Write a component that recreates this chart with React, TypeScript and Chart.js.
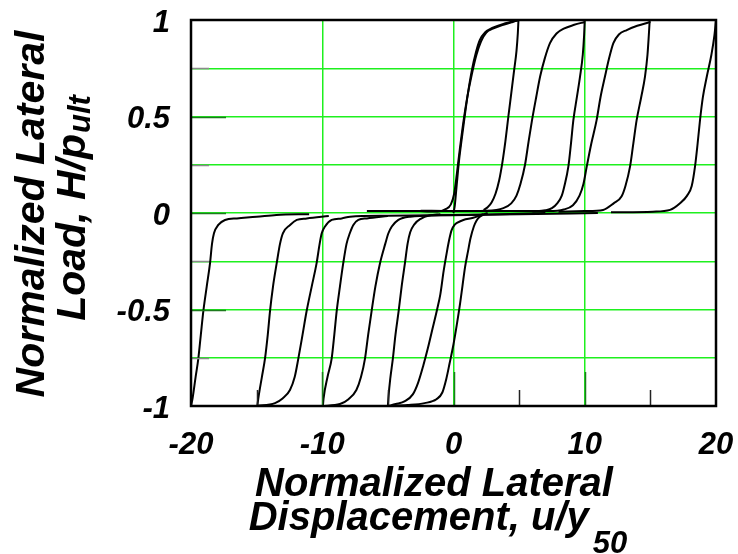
import React, { useEffect, useRef } from 'react';
import { Chart, registerables } from 'chart.js';

Chart.register(...registerables);

type Pt = [number, number];

// ---------- axes ----------
const xMin = -20;
const xMax = 20;
const yMin = -1;
const yMax = 1;
const xLabelStep = 10;
const yGridStep = 0.25;
const yLabelStep = 0.5;
const xInnerTicks = [-15, -10, -5, 0, 5, 10, 15];
const yInnerTicks = [-0.75, -0.5, -0.25, 0, 0.25, 0.5, 0.75];

// ---------- titles ----------
const xTitleLine1 = 'Normalized Lateral';
const xTitleLine2 = 'Displacement, u/y';
const xTitleSub = '50';
const yTitleLine1 = 'Normalized Lateral';
const yTitleLine2 = 'Load, H/p';
const yTitleSub = 'ult';

// ---------- hysteresis branches (x = u/y50, y = H/pult) ----------
const loadPos5First: Pt[] = [[0, 0], [0.1, 0.04], [0.25, 0.15], [0.42, 0.27], [0.62, 0.38], [0.85, 0.5], [1.1, 0.62], [1.4, 0.74], [1.7, 0.83], [2.0, 0.895], [2.4, 0.935], [3.0, 0.96], [3.8, 0.98], [5, 1]];
const loadPos5Second: Pt[] = [[-2.5, 0.01], [-1.8, 0.008], [-1.2, 0.008], [-0.6, 0.02], [-0.2, 0.045], [0.05, 0.1], [0.25, 0.2], [0.48, 0.33], [0.75, 0.47], [1.05, 0.6], [1.4, 0.72], [1.75, 0.82], [2.1, 0.89], [2.5, 0.935], [3.0, 0.955], [3.8, 0.975], [4.5, 0.99], [5, 1]];
const unloadPos5: Pt[] = [[4.95, 1], [4.9, 0.93], [4.8, 0.84], [4.62, 0.74], [4.4, 0.62], [4.18, 0.5], [3.95, 0.37], [3.72, 0.26], [3.48, 0.17], [3.2, 0.1], [2.9, 0.055], [2.6, 0.03], [2.3, 0.015]];
const loadNeg5First: Pt[] = [[2.6, 0.0], [2.3, -0.008], [2.0, -0.02], [1.75, -0.04], [1.55, -0.07], [1.3, -0.13], [1.1, -0.2], [0.88, -0.28], [0.68, -0.38], [0.5, -0.47], [0.25, -0.58], [0.0, -0.68], [-0.3, -0.78], [-0.55, -0.86], [-0.85, -0.93], [-1.3, -0.965], [-2.2, -0.985], [-3.5, -0.995], [-5, -1]];
const loadNeg5Second: Pt[] = [[2.3, -0.005], [1.5, -0.025], [0.75, -0.036], [0.3, -0.05], [0.1, -0.06], [-0.15, -0.09], [-0.3, -0.13], [-0.5, -0.2], [-0.75, -0.3], [-1.0, -0.42], [-1.25, -0.5], [-1.6, -0.6], [-1.95, -0.7], [-2.3, -0.79], [-2.7, -0.88], [-3.1, -0.94], [-3.7, -0.975], [-4.4, -0.99], [-5, -1]];
const unloadNeg5: Pt[] = [[-5, -1], [-4.95, -0.95], [-4.82, -0.86], [-4.62, -0.755], [-4.42, -0.63], [-4.18, -0.508], [-3.95, -0.38], [-3.7, -0.26], [-3.5, -0.16], [-3.3, -0.1], [-3.0, -0.06], [-2.5, -0.03], [-1.8, -0.012], [-1.0, -0.006]];
const loadPos10: Pt[] = [[-2.5, 0.012], [0, 0.01], [2.5, 0.012], [3.8, 0.025], [4.4, 0.05], [4.8, 0.09], [5.1, 0.15], [5.45, 0.25], [5.72, 0.37], [5.98, 0.48], [6.3, 0.6], [6.6, 0.707], [6.95, 0.8], [7.35, 0.88], [7.85, 0.93], [8.4, 0.955], [9.2, 0.975], [10, 0.99]];
const unloadPos10: Pt[] = [[10, 1], [9.95, 0.92], [9.85, 0.82], [9.64, 0.707], [9.4, 0.6], [9.13, 0.48], [8.95, 0.36], [8.75, 0.24], [8.45, 0.14], [8.25, 0.09], [7.9, 0.05], [7.5, 0.025], [7.0, 0.014], [6.0, 0.008]];
const loadNeg10: Pt[] = [[7.0, 0.0], [3.0, -0.008], [-1.0, -0.012], [-3.3, -0.019], [-4.2, -0.036], [-4.7, -0.07], [-4.96, -0.105], [-5.2, -0.16], [-5.6, -0.26], [-5.95, -0.38], [-6.24, -0.508], [-6.5, -0.63], [-6.74, -0.753], [-7.05, -0.85], [-7.4, -0.917], [-8.0, -0.965], [-8.65, -0.99], [-10, -1]];
const unloadNeg10: Pt[] = [[-9.95, -1], [-9.9, -0.96], [-9.6, -0.85], [-9.28, -0.753], [-9.08, -0.63], [-8.9, -0.508], [-8.65, -0.38], [-8.4, -0.26], [-8.15, -0.16], [-7.9, -0.105], [-7.63, -0.062], [-7.25, -0.036], [-6.6, -0.028], [-5.0, -0.015]];
const loadPos15: Pt[] = [[-6.6, 0.01], [0, 0.01], [5, 0.01], [7.3, 0.01], [8.4, 0.018], [9.1, 0.04], [9.6, 0.09], [9.9, 0.15], [10.15, 0.24], [10.5, 0.36], [10.9, 0.48], [11.2, 0.6], [11.54, 0.707], [11.85, 0.8], [12.18, 0.88], [12.6, 0.925], [13.2, 0.948], [14.0, 0.97], [15, 0.99]];
const unloadPos15: Pt[] = [[14.95, 1], [14.88, 0.92], [14.78, 0.82], [14.59, 0.707], [14.3, 0.6], [13.95, 0.48], [13.7, 0.36], [13.45, 0.24], [13.1, 0.14], [12.8, 0.085], [12.2, 0.05], [11.4, 0.016], [10, 0.01], [8, 0.006]];
const loadNeg15: Pt[] = [[11.0, 0.0], [5, -0.006], [0, -0.01], [-5, -0.014], [-7.88, -0.019], [-8.52, -0.028], [-9.28, -0.036], [-9.79, -0.07], [-10.04, -0.105], [-10.2, -0.16], [-10.43, -0.26], [-10.8, -0.38], [-11.19, -0.508], [-11.5, -0.63], [-11.82, -0.753], [-12.1, -0.85], [-12.46, -0.917], [-13.0, -0.96], [-13.6, -0.985], [-15, -1]];
const unloadNeg15: Pt[] = [[-14.95, -1], [-14.87, -0.96], [-14.6, -0.85], [-14.36, -0.753], [-14.15, -0.63], [-13.98, -0.508], [-13.75, -0.38], [-13.47, -0.26], [-13.22, -0.16], [-13.0, -0.105], [-12.45, -0.062], [-11.94, -0.036], [-11.18, -0.028], [-9.5, -0.015]];
const unloadPos20: Pt[] = [[20, 1], [19.88, 0.92], [19.65, 0.82], [19.3, 0.707], [19.0, 0.6], [18.78, 0.48], [18.6, 0.36], [18.4, 0.24], [18.15, 0.14], [17.8, 0.09], [17.26, 0.05], [16.5, 0.016], [15.2, 0.007], [12, 0.004]];
const unloadNeg20: Pt[] = [[-20, -1], [-19.88, -0.96], [-19.65, -0.85], [-19.44, -0.753], [-19.25, -0.63], [-19.06, -0.508], [-18.8, -0.38], [-18.55, -0.26], [-18.4, -0.16], [-18.25, -0.105], [-17.92, -0.062], [-17.41, -0.036], [-16.5, -0.028], [-15, -0.02], [-13.5, -0.01], [-11, -0.006]];

const branches: Pt[][] = [
  loadPos5First, unloadPos5, loadNeg5First, unloadNeg5, loadPos5Second, loadNeg5Second,
  loadPos10, unloadPos10, loadNeg10, unloadNeg10,
  loadPos15, unloadPos15, loadNeg15, unloadNeg15,
  unloadPos20, unloadNeg20,
];

const GRID_GREEN = '#1ef01e';
const FONT_FAMILY = '"Liberation Sans", Arial, sans-serif';

const innerTicksPlugin = {
  id: 'innerTicks',
  afterDatasetsDraw(chart: any) {
    const { ctx, chartArea: a, scales } = chart;
    const xs = scales.x;
    const ys = scales.y;
    ctx.save();
    ctx.lineWidth = 1.5;
    for (const v of xInnerTicks) {
      const px = Math.round(xs.getPixelForValue(v)) + 0.5;
      const major = v % 10 === 0;
      ctx.strokeStyle = major ? '#1d7a1d' : '#222222';
      ctx.beginPath();
      ctx.moveTo(px, a.bottom);
      ctx.lineTo(px, a.bottom - (major ? 34 : 16));
      ctx.stroke();
    }
    for (const v of yInnerTicks) {
      const py = Math.round(ys.getPixelForValue(v)) + 0.5;
      const major = Math.abs(v % 0.5) < 1e-9;
      ctx.strokeStyle = major ? '#1d7a1d' : '#8a8a8a';
      ctx.beginPath();
      ctx.moveTo(a.left, py);
      ctx.lineTo(a.left + (major ? 35 : 18), py);
      ctx.stroke();
    }
    // frame
    ctx.strokeStyle = '#000000';
    ctx.lineWidth = 2.5;
    ctx.strokeRect(a.left, a.top, a.right - a.left, a.bottom - a.top);
    ctx.restore();
  },
};

const titlesPlugin = {
  id: 'axisTitles',
  afterDraw(chart: any) {
    const { ctx } = chart;
    ctx.save();
    ctx.fillStyle = '#000000';
    ctx.textBaseline = 'alphabetic';
    // x title
    const xMain = `italic bold 40px ${FONT_FAMILY}`;
    const xSub = `italic bold 31px ${FONT_FAMILY}`;
    ctx.font = xMain;
    ctx.textAlign = 'center';
    ctx.fillText(xTitleLine1, 434, 496);
    ctx.textAlign = 'left';
    const w2 = ctx.measureText(xTitleLine2).width;
    ctx.font = xSub;
    const ws = ctx.measureText(xTitleSub).width;
    const start2 = 438 - (w2 + 4 + ws) / 2;
    ctx.font = xMain;
    ctx.fillText(xTitleLine2, start2, 530);
    ctx.font = xSub;
    ctx.fillText(xTitleSub, start2 + w2 + 4, 553);

    // y title (rotated)
    const yMain = `italic bold 41px ${FONT_FAMILY}`;
    const ySub = `italic bold 31px ${FONT_FAMILY}`;
    ctx.translate(44, 214);
    ctx.rotate(-Math.PI / 2);
    ctx.font = yMain;
    ctx.textAlign = 'center';
    ctx.fillText(yTitleLine1, 0, 0);
    ctx.textAlign = 'left';
    const wy = ctx.measureText(yTitleLine2).width;
    ctx.font = ySub;
    const wys = ctx.measureText(yTitleSub).width;
    const startY = 6 - (wy + 1 + wys) / 2;
    ctx.font = yMain;
    ctx.fillText(yTitleLine2, startY, 41);
    ctx.font = ySub;
    ctx.fillText(yTitleSub, startY + wy + 1, 46);
    ctx.restore();
  },
};

const zeroPadding = (scale: any) => {
  scale.paddingTop = 0;
  scale.paddingBottom = 0;
  scale.paddingLeft = 0;
  scale.paddingRight = 0;
};

export default function App() {
  const canvasRef = useRef<HTMLCanvasElement | null>(null);

  useEffect(() => {
    const canvas = canvasRef.current;
    if (!canvas) return;
    const datasets = branches.map((b, i) => ({
      label: `branch ${i + 1}`,
      data: b.map(([x, y]) => ({ x, y })),
      showLine: true,
      borderColor: '#000000',
      backgroundColor: '#000000',
      borderWidth: 2,
      pointRadius: 0,
      pointHoverRadius: 0,
      fill: false,
      cubicInterpolationMode: 'monotone' as const,
    }));

    const tickFont = { family: FONT_FAMILY, size: 31, style: 'italic' as const, weight: 'bold' as const };

    const chart = new Chart(canvas, {
      type: 'scatter',
      data: { datasets },
      options: {
        animation: false,
        responsive: true,
        maintainAspectRatio: false,
        layout: { padding: { top: 20, right: 22, left: 0, bottom: 0 } },
        plugins: {
          legend: { display: false },
          tooltip: { enabled: false },
        },
        scales: {
          x: {
            type: 'linear',
            min: xMin,
            max: xMax,
            afterFit: (scale: any) => { scale.height = 148; zeroPadding(scale); },
            ticks: {
              stepSize: xLabelStep,
              autoSkip: false,
              maxRotation: 0,
              padding: 21,
              color: '#000000',
              font: tickFont,
              callback: (v: any) => String(v),
            },
            grid: {
              drawTicks: false,
              lineWidth: 1.5,
              color: (c: any) => (c.tick && (c.tick.value === xMin || c.tick.value === xMax) ? 'rgba(0,0,0,0)' : GRID_GREEN),
            },
            border: { display: false },
          },
          y: {
            type: 'linear',
            min: yMin,
            max: yMax,
            afterFit: (scale: any) => { scale.width = 191; zeroPadding(scale); },
            ticks: {
              stepSize: yGridStep,
              autoSkip: false,
              padding: 21,
              labelOffset: 3,
              color: '#000000',
              font: tickFont,
              callback: (v: any) => {
                const n = Number(v);
                return Math.abs(n / yLabelStep - Math.round(n / yLabelStep)) < 1e-9 ? String(Math.round(n * 100) / 100) : '';
              },
            },
            grid: {
              drawTicks: false,
              lineWidth: 1.5,
              color: (c: any) => (c.tick && (c.tick.value === yMin || c.tick.value === yMax) ? 'rgba(0,0,0,0)' : GRID_GREEN),
            },
            border: { display: false },
          },
        },
      },
      plugins: [innerTicksPlugin, titlesPlugin],
    });
    return () => chart.destroy();
  }, []);

  return (
    <div style={{ position: 'fixed', left: 0, top: 0, width: 738, height: 554, background: '#ffffff' }}>
      <canvas ref={canvasRef} />
    </div>
  );
}
